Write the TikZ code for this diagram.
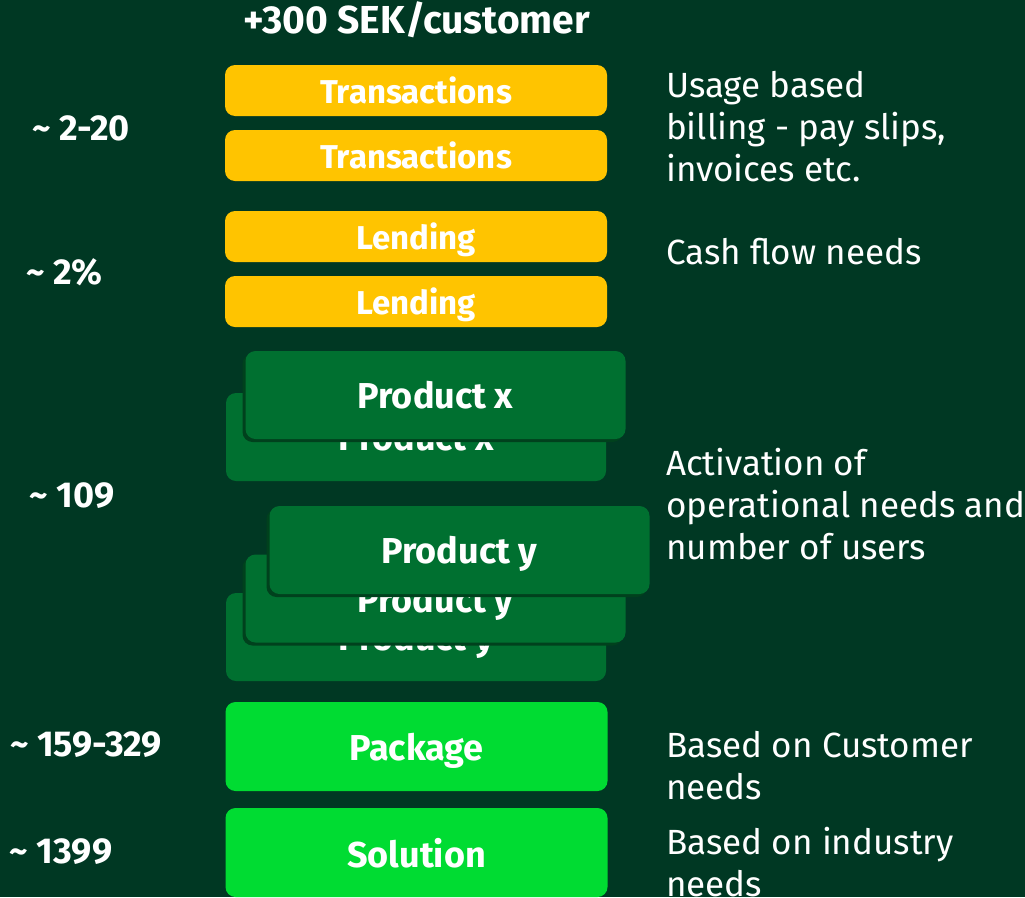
\documentclass[tikz,border=0pt]{standalone}
\usepackage{fontspec}
\setmainfont{Fira Sans}
\usetikzlibrary{shadows}

\definecolor{bg}{HTML}{003823}
\definecolor{gold}{HTML}{FFC400}
\definecolor{prod}{HTML}{007030}
\definecolor{prodedge}{HTML}{00411D}
\definecolor{pack}{HTML}{00DC32}

\tikzset{
  tier/.style={rounded corners=10pt, minimum width=382pt, inner sep=0pt,
    text depth=0pt, text=white, font=\bfseries\fontsize{36}{40}\selectfont},
  goldtier/.style={tier, fill=gold, minimum height=51pt,
    font=\bfseries\fontsize{33}{36}\selectfont},
  prodtier/.style={tier, fill=prod, minimum height=88pt, minimum width=380pt},
  raised/.style={prodtier, drop shadow={shadow xshift=-3pt, shadow yshift=-3pt,
    fill=prodedge, opacity=1}},
  packtier/.style={tier, fill=pack, minimum height=89pt},
  price/.style={text=white, font=\bfseries\fontsize{36}{40}\selectfont},
  note/.style={text=white, anchor=west, align=left, inner sep=0pt,
    font=\fontsize{35}{42}\selectfont}
}

\begin{document}
\begin{tikzpicture}[x=1pt, y=-1pt]
  \fill[bg] (0,0) rectangle (1025,897);
  \useasboundingbox (0,0) rectangle (1025,897);
  \clip (0,0) rectangle (1025,897);

  \node[text=white, font=\bfseries\fontsize{39}{44}\selectfont] (head) at (417,20) {+300 SEK/customer};

  % usage and lending
  \node[goldtier] (T1) at (416,90.5) {Transactions};
  \node[goldtier] (T2) at (416,155.5) {Transactions};
  \node[goldtier] (L1) at (416,236.5) {Lending};
  \node[goldtier] (L2) at (416,301.5) {Lending};

  % stacked products
  \node[prodtier] (X1) at (416,437) {Product x};
  \node[raised] (X2) at (435.5,395) {Product x};
  \node[prodtier] (Y1) at (416,637) {Product y};
  \node[raised] (Y2) at (435.5,598.5) {Product y};
  \node[raised] (Y3) at (459.5,550) {Product y};

  \node[packtier] (P) at (416.5,746.5) {Package};
  \node[packtier] (S) at (416.5,852.5) {Solution};

  % prices
  \node[price] (pT) at (81,128) {\textasciitilde{} 2-20};
  \node[price] (pL) at (64.5,272) {\textasciitilde{} 2\%};
  \node[price] (pX) at (72,496) {\textasciitilde{} 109};
  \node[price] (pP) at (86,745) {\textasciitilde{} 159-329};
  \node[price] (pS) at (61,852) {\textasciitilde{} 1399};

  % needs
  \node[note] (nT) at (666,127) {Usage based\\billing - pay slips,\\invoices etc.};
  \node[note] (nL) at (666,252) {Cash flow needs};
  \node[note] (nX) at (666,504) {Activation of\\operational needs and\\number of users};
  \node[note] (nP) at (666,766) {Based on Customer\\needs};
  \node[note] (nS) at (666,862) {Based on industry\\needs};
\end{tikzpicture}
\end{document}
